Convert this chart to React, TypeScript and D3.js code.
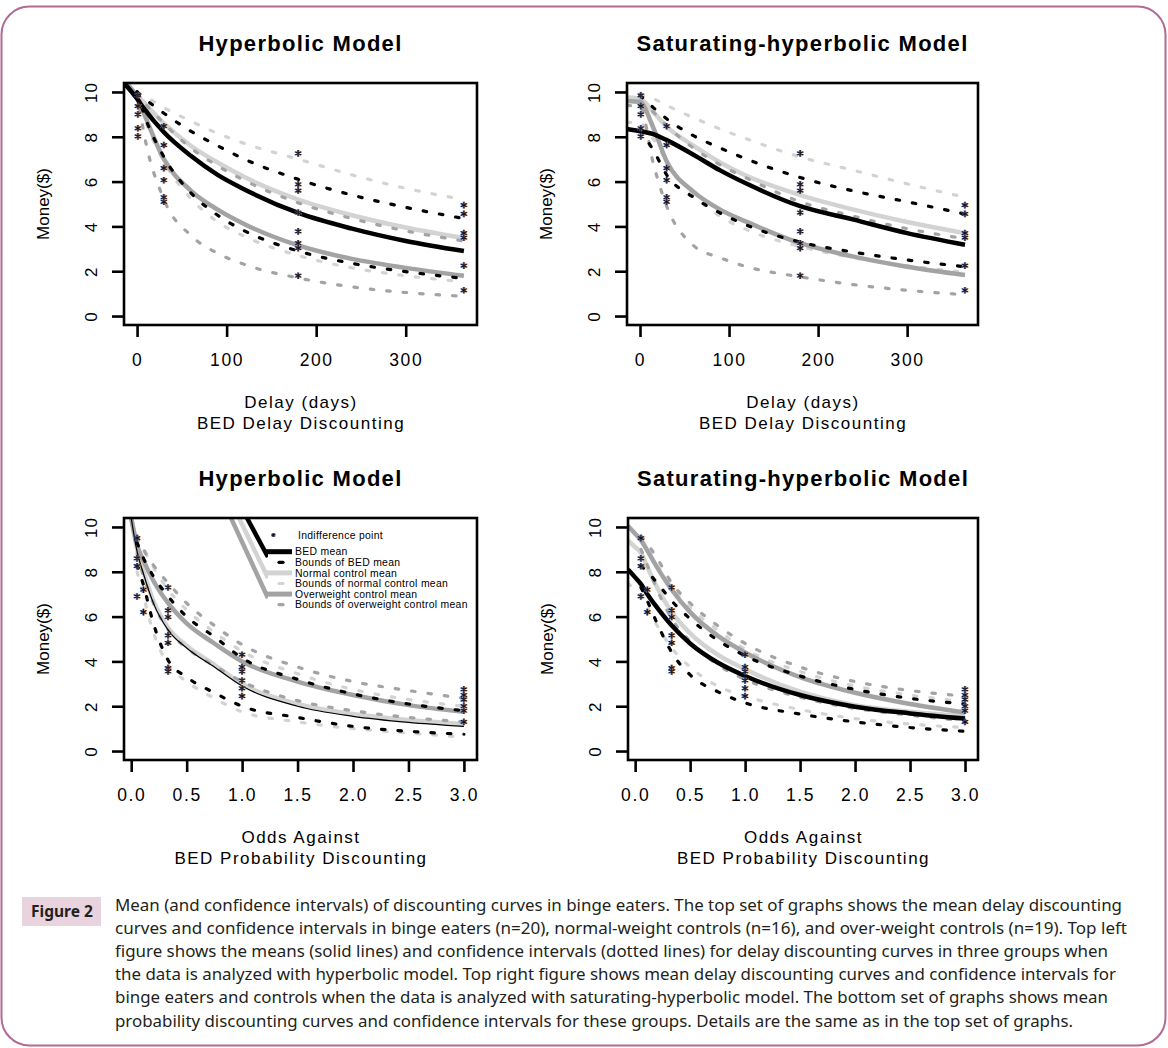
import React, {useRef, useEffect} from 'react'
import * as d3 from 'd3'

// group colours
const BED = '#000000'
const NORMAL = '#d2d4d2'
const OVER = '#a3a3a6'

const moneyTicks = [0, 2, 4, 6, 8, 10]
const delayTicks = [0, 100, 200, 300]
const probTicks = [0, 0.5, 1, 1.5, 2, 2.5, 3]

// top left: hyperbolic model, delay
const hypDelayMeanX = [-14.6, 0, 7, 30, 60, 90, 120, 180, 240, 300, 365]
const hypDelayBoundX = [0, 7, 30, 60, 90, 120, 180, 240, 300, 365]
const hypDelayBedMean = [10.4, 9.7, 9.3, 8.2, 7.15, 6.3, 5.65, 4.6, 3.9, 3.35, 2.9]
const hypDelayNormalMean = [10.5, 9.85, 9.55, 8.6, 7.6, 6.85, 6.2, 5.2, 4.5, 3.95, 3.48]
const hypDelayOverMean = [10.5, 9.75, 9.1, 7.0, 5.6, 4.75, 4.1, 3.15, 2.55, 2.15, 1.8]
const hypDelayBedUpper = [10.0, 9.75, 9.05, 8.25, 7.6, 7.0, 6.1, 5.4, 4.85, 4.35]
const hypDelayBedLower = [10.0, 9.1, 7.1, 5.5, 4.5, 3.8, 2.9, 2.35, 1.98, 1.68]
const hypDelayNormalUpper = [10.0, 9.85, 9.3, 8.7, 8.15, 7.7, 7.0, 6.3, 5.7, 5.2]
const hypDelayNormalLower = [10.0, 9.0, 6.9, 5.25, 4.2, 3.55, 2.7, 2.15, 1.8, 1.53]
const hypDelayOverUpper = [10.0, 9.6, 8.6, 7.5, 6.7, 6.05, 5.05, 4.35, 3.8, 3.35]
const hypDelayOverLower = [10.0, 8.3, 5.2, 3.6, 2.8, 2.3, 1.7, 1.3, 1.05, 0.88]

// top right: saturating-hyperbolic model, delay
const satDelayX = [-14.6, 0, 15, 30, 60, 90, 120, 180, 240, 300, 365]
const satDelayBedMean = [8.35, 8.25, 8.12, 7.85, 7.2, 6.5, 5.9, 4.9, 4.3, 3.7, 3.18]
const satDelayNormalMean = [9.75, 9.7, 9.1, 8.45, 7.6, 6.85, 6.25, 5.4, 4.75, 4.2, 3.7]
const satDelayOverMean = [9.6, 9.55, 8.4, 6.9, 5.55, 4.75, 4.2, 3.25, 2.65, 2.2, 1.83]
const satDelayBedUpper = [null, 9.85, 9.3, 8.8, 8.05, 7.5, 7.0, 6.18, 5.58, 5.1, 4.55]
const satDelayBedLower = [null, 8.3, 7.4, 6.3, 5.3, 4.6, 4.05, 3.3, 2.85, 2.5, 2.2]
const satDelayNormalUpper = [null, 9.9, 9.7, 9.4, 8.85, 8.35, 7.9, 7.1, 6.5, 5.9, 5.3]
const satDelayNormalLower = [8.65, 8.6, 7.9, 6.9, 5.4, 4.45, 3.85, 3.1, 2.6, 2.25, 1.95]
const satDelayOverUpper = [null, 9.6, 9.1, 8.5, 7.5, 6.75, 6.15, 5.1, 4.45, 3.9, 3.45]
const satDelayOverLower = [9.4, 9.35, 6.8, 4.9, 3.15, 2.6, 2.2, 1.75, 1.4, 1.15, 0.95]

// bottom left: hyperbolic model, probability
const hypProbMeanX = [0, 0.053, 0.111, 0.2, 0.333, 0.5, 0.75, 1, 1.5, 2, 2.5, 3]
const hypProbBoundX = [0.053, 0.111, 0.2, 0.333, 0.5, 0.75, 1, 1.5, 2, 2.5, 3]
const hypProbBedMean = [10.4, 8.9, 7.9, 6.6, 5.4, 4.6, 3.75, 2.9, 2.0, 1.55, 1.28, 1.1]
const hypProbNormalMean = [10.4, 9.0, 8.0, 6.7, 5.5, 4.7, 3.85, 3.0, 2.1, 1.65, 1.38, 1.2]
const hypProbOverMean = [10.4, 9.2, 8.5, 7.6, 6.6, 5.7, 4.8, 4.0, 3.1, 2.5, 2.05, 1.75]
const hypProbBedUpper = [9.3, 8.6, 7.8, 6.9, 6.0, 5.1, 4.15, 3.2, 2.55, 2.1, 1.8]
const hypProbBedLower = [8.3, 7.4, 5.7, 4.05, 3.3, 2.6, 2.0, 1.5, 1.1, 0.88, 0.75]
const hypProbNormalUpper = [9.5, 9.0, 8.2, 7.2, 6.3, 5.3, 4.45, 3.45, 2.75, 2.3, 2.0]
const hypProbNormalLower = [8.0, 6.9, 5.3, 3.85, 3.1, 2.35, 1.75, 1.3, 1.0, 0.8, 0.62]
const hypProbOverUpper = [9.6, 9.0, 8.3, 7.5, 6.6, 5.6, 4.75, 3.75, 3.1, 2.7, 2.35]
const hypProbOverLower = [8.8, 7.8, 6.6, 5.4, 4.6, 3.8, 3.1, 2.25, 1.8, 1.5, 1.3]

// bottom right: saturating-hyperbolic model, probability
const satProbX = [-0.065, 0, 0.053, 0.111, 0.2, 0.333, 0.5, 0.75, 1, 1.5, 2, 2.5, 3]
const satProbBedMean = [8.1, 7.75, 7.45, 7.0, 6.4, 5.6, 4.8, 3.95, 3.35, 2.5, 1.98, 1.68, 1.45]
const satProbNormalMean = [9.4, 9.1, 8.85, 8.2, 7.3, 6.2, 5.25, 4.3, 3.65, 2.65, 2.05, 1.75, 1.55]
const satProbOverMean = [10.05, 9.7, 9.4, 8.95, 8.2, 7.2, 6.2, 5.15, 4.4, 3.3, 2.6, 2.1, 1.72]
const satProbBedUpper = [null, null, 8.27, 8.0, 7.5, 6.7, 5.9, 4.95, 4.25, 3.35, 2.75, 2.35, 2.1]
const satProbBedLower = [null, null, 7.3, 6.7, 5.7, 4.4, 3.4, 2.65, 2.15, 1.65, 1.3, 1.05, 0.88]
const satProbNormalUpper = [null, null, 9.5, 9.0, 8.3, 7.3, 6.4, 5.4, 4.55, 3.55, 2.9, 2.5, 2.2]
const satProbNormalLower = [7.5, 7.15, 6.9, 6.4, 5.6, 4.6, 3.75, 2.9, 2.45, 1.85, 1.45, 1.2, 1.05]
const satProbOverUpper = [null, null, 9.6, 9.25, 8.6, 7.5, 6.6, 5.6, 4.8, 3.75, 3.1, 2.7, 2.45]
const satProbOverLower = [null, null, 9.0, 8.3, 7.2, 5.9, 4.9, 3.85, 3.2, 2.4, 1.9, 1.6, 1.35]

// indifference points (same in both models)
const delayStarX = [1, 30, 180, 365]
const delayStarY = [
  [9.85, 9.37, 9.0, 8.38, 8.02],
  [8.47, 7.63, 6.6, 6.06, 5.3, 5.1],
  [7.26, 5.88, 5.6, 4.62, 3.78, 3.25, 3.03, 1.8],
  [4.95, 4.56, 3.7, 3.5, 2.25, 1.15],
]
const probStarX = [0.053, 0.111, 0.333, 1, 3]
const probStarY = [
  [9.5, 8.6, 8.25, 6.9],
  [7.2, 6.2],
  [7.3, 6.28, 5.98, 5.16, 4.83, 3.7, 3.55],
  [4.3, 3.75, 3.55, 3.15, 2.8, 2.45],
  [2.75, 2.5, 2.3, 2.0, 1.8, 1.3],
]

// legend, and the odd mean strokes that run into it in the bottom left panel
const legendLabels = [
  'Indifference point',
  'BED mean',
  'Bounds of BED mean',
  'Normal control mean',
  'Bounds of normal control mean',
  'Overweight control mean',
  'Bounds of overweight control mean',
]
const legendTrails = [
  {color: OVER, x: [0.9, 1.233], y: [10.4, 6.83]},
  {color: NORMAL, x: [0.972, 1.233], y: [10.4, 7.72]},
  {color: BED, x: [1.044, 1.233], y: [10.4, 8.66]},
]

const caption = [
  'Mean (and confidence intervals) of discounting curves in binge eaters. The top set of graphs shows the mean delay discounting',
  'curves and confidence intervals in binge eaters (n=20), normal-weight controls (n=16), and over-weight controls (n=19). Top left',
  'figure shows the means (solid lines) and confidence intervals (dotted lines) for delay discounting curves in three groups when',
  'the data is analyzed with hyperbolic model. Top right figure shows mean delay discounting curves and confidence intervals for',
  'binge eaters and controls when the data is analyzed with saturating-hyperbolic model. The bottom set of graphs shows mean',
  'probability discounting curves and confidence intervals for these groups. Details are the same as in the top set of graphs.',
]
const captionEnds = [1122, 1127, 1108, 1116, 1108, 1073]

const FONT = "'Liberation Sans', Arial, Helvetica, sans-serif"

const group = (mx: number[], mean: any[], bx: number[], up: any[], low: any[], color: string, w = 4.5) => [
  {x: mx, y: mean, color, width: w, dashed: false},
  {x: bx, y: up, color, width: 3.2, dashed: true},
  {x: bx, y: low, color, width: 3.2, dashed: true},
]

const panels = [
  {
    title: 'Hyperbolic Model',
    box: [124, 83, 477, 325],
    xDomain: [-14.6, 379.6],
    xTicks: delayTicks,
    fmt: d3.format('d'),
    xTitle: ['Delay (days)', 'BED Delay Discounting'],
    series: [
      ...group(hypDelayMeanX, hypDelayNormalMean, hypDelayBoundX, hypDelayNormalUpper, hypDelayNormalLower, NORMAL),
      ...group(hypDelayMeanX, hypDelayOverMean, hypDelayBoundX, hypDelayOverUpper, hypDelayOverLower, OVER),
      ...group(hypDelayMeanX, hypDelayBedMean, hypDelayBoundX, hypDelayBedUpper, hypDelayBedLower, BED),
    ],
    starX: delayStarX,
    starY: delayStarY,
  },
  {
    title: 'Saturating-hyperbolic Model',
    box: [627, 83, 978, 325],
    xDomain: [-14.6, 379.6],
    xTicks: delayTicks,
    fmt: d3.format('d'),
    xTitle: ['Delay (days)', 'BED Delay Discounting'],
    series: [
      ...group(satDelayX, satDelayNormalMean, satDelayX, satDelayNormalUpper, satDelayNormalLower, NORMAL),
      ...group(satDelayX, satDelayOverMean, satDelayX, satDelayOverUpper, satDelayOverLower, OVER),
      ...group(satDelayX, satDelayBedMean, satDelayX, satDelayBedUpper, satDelayBedLower, BED),
    ],
    starX: delayStarX,
    starY: delayStarY,
  },
  {
    title: 'Hyperbolic Model',
    box: [124, 518, 477, 760],
    xDomain: [-0.065, 3.118],
    xTicks: probTicks,
    fmt: d3.format('.1f'),
    xTitle: ['Odds Against', 'BED Probability Discounting'],
    series: [
      ...group(hypProbMeanX, hypProbNormalMean, hypProbBoundX, hypProbNormalUpper, hypProbNormalLower, NORMAL),
      ...group(hypProbMeanX, hypProbOverMean, hypProbBoundX, hypProbOverUpper, hypProbOverLower, OVER),
      ...group(hypProbMeanX, hypProbBedMean, hypProbBoundX, hypProbBedUpper, hypProbBedLower, BED, 1.2),
    ],
    starX: probStarX,
    starY: probStarY,
  },
  {
    title: 'Saturating-hyperbolic Model',
    box: [628, 518, 978, 760],
    xDomain: [-0.065, 3.118],
    xTicks: probTicks,
    fmt: d3.format('.1f'),
    xTitle: ['Odds Against', 'BED Probability Discounting'],
    series: [
      ...group(satProbX, satProbNormalMean, satProbX, satProbNormalUpper, satProbNormalLower, NORMAL),
      ...group(satProbX, satProbOverMean, satProbX, satProbOverUpper, satProbOverLower, OVER),
      ...group(satProbX, satProbBedMean, satProbX, satProbBedUpper, satProbBedLower, BED),
    ],
    starX: probStarX,
    starY: probStarY,
  },
]

// asterisk drawn three times for the coloured fringes of the scanned figure
function drawStar(sel: any, cx: number, cy: number, r: number) {
  const d = [0, 60, 120]
    .map(a => {
      const rad = (a * Math.PI) / 180
      const dx = Math.sin(rad) * r
      const dy = Math.cos(rad) * r
      return `M${cx - dx},${cy - dy}L${cx + dx},${cy + dy}`
    })
    .join('')
  const layers: [string, number][] = [
    ['#3b72d4', -0.7],
    ['#d98a35', 0.7],
    ['#14142e', 0],
  ]
  layers.forEach(([c, o]) => {
    sel
      .append('path')
      .attr('d', d)
      .attr('transform', `translate(${o},0)`)
      .attr('stroke', c)
      .attr('stroke-width', 1.1)
      .attr('fill', 'none')
  })
}

function drawPanel(svg: any, p: any, i: number) {
  const [x0, y0, x1, y1] = p.box
  const x = d3.scaleLinear().domain(p.xDomain).range([x0, x1])
  const y = d3.scaleLinear().domain([-0.4, 10.4]).range([y1, y0])
  const g = svg.append('g')

  g.append('clipPath')
    .attr('id', 'clip' + i)
    .append('rect')
    .attr('x', x0)
    .attr('y', y0)
    .attr('width', x1 - x0)
    .attr('height', y1 - y0)
  const plot = g.append('g').attr('clip-path', `url(#clip${i})`)

  const line = d3
    .line<any>()
    .defined(d => d[1] != null)
    .x(d => x(d[0]))
    .y(d => y(d[1]))
    .curve(d3.curveMonotoneX)

  p.series.forEach((s: any) => {
    plot
      .append('path')
      .datum(s.x.map((xv: number, j: number) => [xv, s.y[j]]))
      .attr('d', line)
      .attr('fill', 'none')
      .attr('stroke', s.color)
      .attr('stroke-width', s.width)
      .attr('stroke-dasharray', s.dashed ? '3.5 13' : null)
      .attr('stroke-linecap', s.dashed ? 'round' : 'butt')
  })

  p.starX.forEach((sx: number, k: number) => {
    p.starY[k].forEach((v: number) => drawStar(plot, x(sx), y(v), 3.3))
  })

  if (i === 2) {
    legendTrails.forEach(t => {
      plot
        .append('path')
        .datum(t.x.map((xv, j) => [xv, t.y[j]]))
        .attr('d', d3.line<any>().x(d => x(d[0])).y(d => y(d[1])))
        .attr('stroke', t.color)
        .attr('stroke-width', 4.5)
        .attr('fill', 'none')
    })
    const lg = g.append('g').attr('font-family', FONT).attr('font-size', 10.4).attr('letter-spacing', 0.3)
    lg.append('rect').attr('x', 268).attr('y', 524).attr('width', 205).attr('height', 88).attr('fill', '#fff')
    legendLabels.forEach((label, k) => {
      const cy = k === 0 ? 535 : 551.7 + (k - 1) * 10.6
      lg.append('text')
        .attr('x', k === 0 ? 298 : 295)
        .attr('y', cy + 3.6)
        .text(label)
      if (k === 0) {
        drawStar(lg, 273.5, cy, 1.8)
        return
      }
      const color = [BED, NORMAL, OVER][Math.floor((k - 1) / 2)]
      if (k % 2 === 1) {
        lg.append('line').attr('x1', 266).attr('x2', 292).attr('y1', cy).attr('y2', cy).attr('stroke', color).attr('stroke-width', 5)
      } else {
        lg.append('line').attr('x1', 279).attr('x2', 283).attr('y1', cy).attr('y2', cy).attr('stroke', color).attr('stroke-width', 3.2).attr('stroke-linecap', 'round')
      }
    })
  }

  g.append('rect')
    .attr('x', x0)
    .attr('y', y0)
    .attr('width', x1 - x0)
    .attr('height', y1 - y0)
    .attr('fill', 'none')
    .attr('stroke', '#000')
    .attr('stroke-width', 2.6)

  const yAxis = g
    .append('g')
    .attr('transform', `translate(${x0},0)`)
    .call(d3.axisLeft(y).tickValues(moneyTicks).tickSize(12).tickSizeOuter(0))
  yAxis.select('.domain').remove()
  yAxis.selectAll('line').attr('stroke-width', 2.6)
  yAxis
    .selectAll('text')
    .attr('x', null)
    .attr('dy', null)
    .attr('text-anchor', 'middle')
    .attr('transform', 'translate(-27,0) rotate(-90)')
    .attr('font-size', 17)
    .attr('letter-spacing', 1)
    .attr('font-family', FONT)
    .attr('fill', '#000')

  const xAxis = g
    .append('g')
    .attr('transform', `translate(0,${y1})`)
    .call(d3.axisBottom(x).tickValues(p.xTicks).tickFormat(p.fmt).tickSize(12).tickPadding(17).tickSizeOuter(0))
  xAxis.select('.domain').remove()
  xAxis.selectAll('line').attr('stroke-width', 2.6)
  xAxis
    .selectAll('text')
    .attr('font-size', 17.5)
    .attr('letter-spacing', 1.6)
    .attr('font-family', FONT)
    .attr('fill', '#000')

  const cx = (x0 + x1) / 2
  g.append('text')
    .attr('x', cx)
    .attr('y', y0 - 32)
    .attr('text-anchor', 'middle')
    .attr('font-family', FONT)
    .attr('font-weight', 'bold')
    .attr('font-size', 22)
    .attr('letter-spacing', 1.3)
    .text(p.title)
  p.xTitle.forEach((t: string, k: number) => {
    g.append('text')
      .attr('x', cx + 0.5)
      .attr('y', y1 + 83 + k * 21)
      .attr('text-anchor', 'middle')
      .attr('font-family', FONT)
      .attr('font-size', 17)
      .attr('letter-spacing', 1.5)
      .text(t)
  })
  g.append('text')
    .attr('transform', `translate(${x0 - 75},${(y0 + y1) / 2}) rotate(-90)`)
    .attr('text-anchor', 'middle')
    .attr('font-family', FONT)
    .attr('font-size', 17)
    .text('Money($)')
}

function App() {
  const ref: any = useRef<SVGSVGElement>(null)
  useEffect(() => {
    const svg = d3.select(ref.current)
    svg.selectAll('*').remove()

    svg
      .append('rect')
      .attr('x', 1.5)
      .attr('y', 6.5)
      .attr('width', 1164)
      .attr('height', 1039)
      .attr('rx', 28)
      .attr('fill', '#fff')
      .attr('stroke', '#b26a93')
      .attr('stroke-width', 2)

    panels.forEach((p, i) => drawPanel(svg, p, i))

    // caption
    svg.append('rect').attr('x', 22).attr('y', 897).attr('width', 79).attr('height', 29).attr('fill', '#e8d3df')
    svg
      .append('text')
      .attr('x', 31)
      .attr('y', 917)
      .attr('font-family', "'Noto Sans', 'Open Sans', sans-serif")
      .attr('font-weight', 'bold')
      .attr('font-size', 15.5)
      .attr('fill', '#231f20')
      .text('Figure 2')
    caption.forEach((line, k) => {
      svg
        .append('text')
        .attr('x', 115)
        .attr('y', 911 + k * 23.1)
        .attr('font-family', "'Noto Sans', 'Open Sans', sans-serif")
        .attr('font-size', 16.3)
        .attr('fill', '#231f20')
        .attr('textLength', captionEnds[k] - 115)
        .attr('lengthAdjust', 'spacingAndGlyphs')
        .text(line)
    })
  }, [])

  return (
    <svg
      ref={ref}
      width={1168}
      height={1048}
      style={{position: 'absolute', left: 0, top: 0, background: '#fff'}}
    />
  )
}

export default App
